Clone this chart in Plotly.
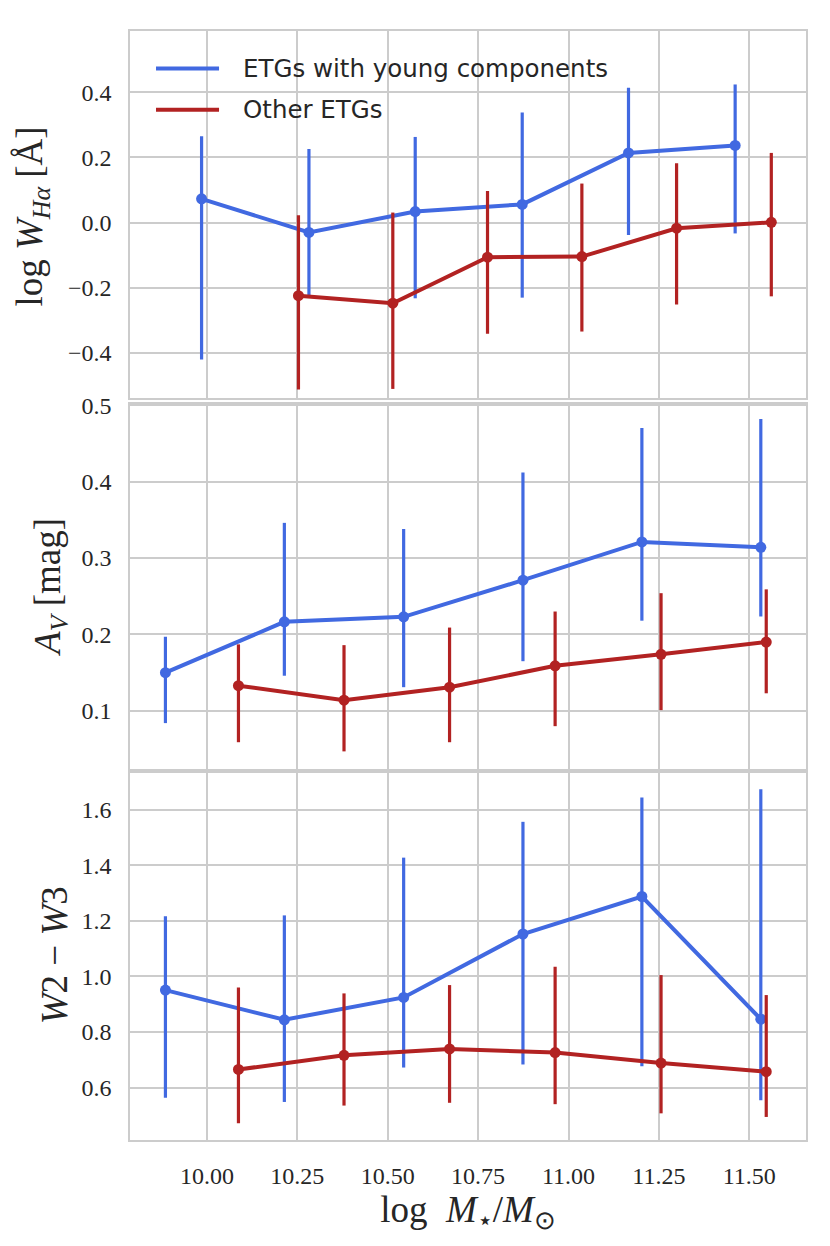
import plotly.graph_objects as go
from plotly.subplots import make_subplots

# ---------------- data ----------------
series_names = ["ETGs with young components", "Other ETGs"]
series_colors = ["#4169E1", "#B22222"]

# Panel 1: log W_Halpha
p1_blue_x = [9.985, 10.282, 10.576, 10.872, 11.166, 11.461]
p1_blue_y = [0.073, -0.030, 0.034, 0.056, 0.214, 0.237]
p1_blue_lo = [-0.420, -0.223, -0.232, -0.230, -0.038, -0.033]
p1_blue_hi = [0.265, 0.226, 0.263, 0.338, 0.414, 0.424]
p1_red_x = [10.253, 10.514, 10.776, 11.037, 11.299, 11.561]
p1_red_y = [-0.224, -0.247, -0.106, -0.104, -0.017, 0.001]
p1_red_lo = [-0.512, -0.510, -0.341, -0.334, -0.251, -0.226]
p1_red_hi = [0.023, 0.031, 0.097, 0.120, 0.182, 0.214]

# Panel 2: A_V
p2_blue_x = [9.885, 10.214, 10.544, 10.874, 11.203, 11.532]
p2_blue_y = [0.150, 0.2165, 0.223, 0.271, 0.321, 0.314]
p2_blue_lo = [0.084, 0.146, 0.131, 0.165, 0.218, 0.2235]
p2_blue_hi = [0.197, 0.346, 0.338, 0.412, 0.470, 0.482]
p2_red_x = [10.087, 10.379, 10.671, 10.963, 11.256, 11.547]
p2_red_y = [0.133, 0.114, 0.131, 0.159, 0.174, 0.190]
p2_red_lo = [0.059, 0.047, 0.059, 0.080, 0.101, 0.123]
p2_red_hi = [0.187, 0.186, 0.209, 0.230, 0.254, 0.259]

# Panel 3: W2 - W3
p3_blue_x = [9.885, 10.214, 10.544, 10.874, 11.203, 11.532]
p3_blue_y = [0.951, 0.844, 0.9245, 1.153, 1.288, 0.846]
p3_blue_lo = [0.563, 0.548, 0.672, 0.683, 0.677, 0.554]
p3_blue_hi = [1.217, 1.220, 1.428, 1.557, 1.645, 1.674]
p3_red_x = [10.087, 10.379, 10.671, 10.963, 11.256, 11.547]
p3_red_y = [0.665, 0.716, 0.739, 0.726, 0.688, 0.657]
p3_red_lo = [0.471, 0.535, 0.545, 0.540, 0.507, 0.494]
p3_red_hi = [0.960, 0.939, 0.969, 1.035, 1.005, 0.933]

x_tick_vals = [10.00, 10.25, 10.50, 10.75, 11.00, 11.25, 11.50]
p1_ticks = [-0.4, -0.2, 0.0, 0.2, 0.4]
p2_ticks = [0.1, 0.2, 0.3, 0.4, 0.5]
p3_ticks = [0.6, 0.8, 1.0, 1.2, 1.4, 1.6]

y_titles = ["log <i>W</i><sub><i>Hα</i></sub> [Å]",
            "<i>A</i><sub><i>V</i></sub> [mag]",
            "<i>W</i>2 − <i>W</i>3"]
x_title = "log  <i>M</i><sub>⋆</sub>/<i>M</i><sub>⊙</sub>"

# ---------------- figure ----------------
OFF = 8  # page body margin
W, H = 830 - OFF, 1246 - OFF
# desired page-pixel plot area: x 130..805.7, y 29..1140
ML = 130 - OFF
MR = W - (805.7 - OFF)
MT = 29 - OFF
MB = H - (1140 - OFF)
PW, PH = W - ML - MR, H - MT - MB

def py2paper(py):  # page pixel y -> paper
    return (H - MB - (py - OFF)) / PH

def px2paper(px):  # page pixel x -> paper
    return ((px - OFF) - ML) / PW

fig = make_subplots(rows=3, cols=1, shared_xaxes=True, vertical_spacing=0.005)

panels = [
    (p1_blue_x, p1_blue_y, p1_blue_lo, p1_blue_hi, p1_red_x, p1_red_y, p1_red_lo, p1_red_hi),
    (p2_blue_x, p2_blue_y, p2_blue_lo, p2_blue_hi, p2_red_x, p2_red_y, p2_red_lo, p2_red_hi),
    (p3_blue_x, p3_blue_y, p3_blue_lo, p3_blue_hi, p3_red_x, p3_red_y, p3_red_lo, p3_red_hi),
]

for row, pdata in enumerate(panels, start=1):
    bx, by, blo, bhi, rx, ry, rlo, rhi = pdata
    for (xs, ys, lo, hi, name, col) in [(bx, by, blo, bhi, series_names[0], series_colors[0]),
                                         (rx, ry, rlo, rhi, series_names[1], series_colors[1])]:
        fig.add_trace(go.Scatter(
            x=xs, y=ys, mode="lines+markers", name=name, showlegend=False,
            line=dict(color=col, width=4),
            marker=dict(color=col, size=11),
            error_y=dict(type="data", symmetric=False,
                         array=[h - y for h, y in zip(hi, ys)],
                         arrayminus=[y - l for y, l in zip(ys, lo)],
                         color=col, thickness=3.2, width=0),
        ), row=row, col=1)

grid = "#cccccc"
tickfont = dict(family="Liberation Serif", size=24, color="#262626")
common_axis = dict(showgrid=True, gridcolor=grid, gridwidth=1.5, showline=True,
                   linecolor=grid, linewidth=1.5, mirror=True, zeroline=False,
                   ticks="outside", tickcolor="rgba(0,0,0,0)", tickfont=tickfont)

dom = [
    [py2paper(396.7), py2paper(29)],
    [py2paper(768.3), py2paper(402.3)],
    [py2paper(1140), py2paper(772.3)],
]
ranges = [[-0.538, 0.588], [0.024, 0.502], [0.411, 1.733]]
yticks = [p1_ticks, p2_ticks, p3_ticks]

for i in range(3):
    yname = "yaxis" if i == 0 else f"yaxis{i+1}"
    xname = "xaxis" if i == 0 else f"xaxis{i+1}"
    fig.layout[yname].update(domain=dom[i], range=ranges[i], tickvals=yticks[i],
                             tickformat=".1f", ticklen=12, **common_axis)
    fig.layout[xname].update(range=[9.787, 11.657], tickvals=x_tick_vals,
                             tickformat=".2f", ticklen=13, **common_axis)
    if i < 2:
        fig.layout[xname].update(showticklabels=False)

fig.update_xaxes(title=dict(text=x_title, font=dict(family="Liberation Serif", size=37, color="#262626"),
                            standoff=5), row=3, col=1)

annotations = []
title_px = [33, 51, 54]
title_py = [215, 586, 955]
for i in range(3):
    annotations.append(dict(text=y_titles[i], xref="paper", yref="paper",
                            x=px2paper(title_px[i]), y=py2paper(title_py[i]),
                            xanchor="center", yanchor="middle", textangle=-90, showarrow=False,
                            font=dict(family="Liberation Serif", size=37, color="#262626")))

# manual legend (line samples only)
shapes = []
leg_y = [66.5, 108]
for name, col, ly in zip(series_names, series_colors, leg_y):
    shapes.append(dict(type="line", xref="paper", yref="paper",
                       x0=px2paper(156), x1=px2paper(219), y0=py2paper(ly), y1=py2paper(ly),
                       line=dict(color=col, width=4)))
    annotations.append(dict(text=name, xref="paper", yref="paper",
                            x=px2paper(241), y=py2paper(ly), xanchor="left", yanchor="middle",
                            showarrow=False,
                            font=dict(family="DejaVu Sans", size=24.5, color="#262626")))

fig.update_layout(width=W, height=H, margin=dict(l=ML, r=MR, t=MT, b=MB),
                  plot_bgcolor="white", paper_bgcolor="white",
                  annotations=annotations, shapes=shapes, showlegend=False)

fig.write_html("out.html")
